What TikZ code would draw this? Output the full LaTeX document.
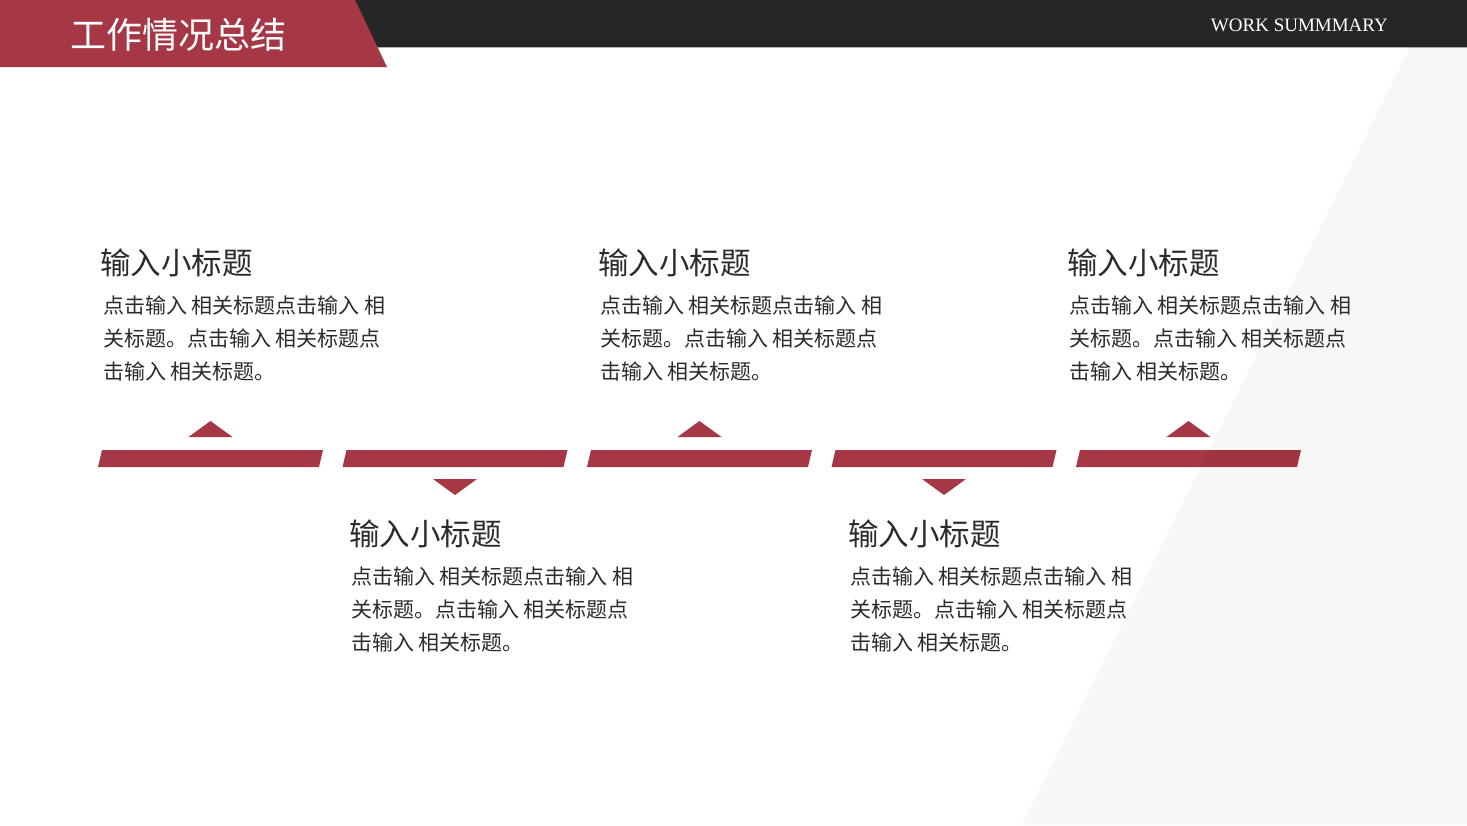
\documentclass[tikz,border=0pt]{standalone}
\usepackage{fontspec}
\setmainfont{Noto Sans CJK SC}
\newfontfamily\latinserif{Liberation Serif}
\usepackage{xcolor}
\usepackage{tikz}
\definecolor{wineRed}{HTML}{A63744}
\definecolor{barBlack}{HTML}{262626}
\definecolor{textGrey}{HTML}{2B2B2B}

\begin{document}
\begin{tikzpicture}[x=1pt,y=-1pt,
  seg/.style={fill=wineRed},
  pointer/.style={fill=wineRed},
  subtitle/.style={anchor=base west,inner sep=0,text=textGrey,font=\fontsize{30.5}{36}\selectfont},
  bodytext/.style={anchor=north west,inner sep=0,align=left,text=textGrey,font=\fontsize{21}{33}\selectfont}]
  \useasboundingbox (0,0) rectangle (1467,825);

  % Naglowek
  \fill[barBlack] (355,0) rectangle (1467,47);
  \draw[gray!60,line width=1pt] (370,47) -- (1467,47);
  \fill[wineRed] (0,0) -- (355,0) -- (387,67) -- (0,67) -- cycle;
  \node[anchor=base west,inner sep=0,text=white,font=\fontsize{36}{40}\selectfont] (title) at (70,48) {工作情况总结};
  \node[anchor=base east,inner sep=0,text=white,font=\latinserif\fontsize{19}{22}\selectfont] (subtitleEn) at (1388,31) {WORK SUMMMARY};

  % Os czasu
  \fill[seg] (102,450) -- (323,450) -- (319,467) -- (98,467) -- cycle;
  \fill[seg] (346.5,450) -- (567.5,450) -- (563.5,467) -- (342.5,467) -- cycle;
  \fill[seg] (591,450) -- (812,450) -- (808,467) -- (587,467) -- cycle;
  \fill[seg] (835.5,450) -- (1056.5,450) -- (1052.5,467) -- (831.5,467) -- cycle;
  \fill[seg] (1080,450) -- (1301,450) -- (1297,467) -- (1076,467) -- cycle;

  % Znaczniki
  \fill[pointer] (188.5,437) -- (210.5,421) -- (232.5,437) -- cycle;
  \fill[pointer] (677.5,437) -- (699.5,421) -- (721.5,437) -- cycle;
  \fill[pointer] (1166.5,437) -- (1188.5,421) -- (1210.5,437) -- cycle;
  \fill[pointer] (433,479) -- (455,495) -- (477,479) -- cycle;
  \fill[pointer] (922,479) -- (944,495) -- (966,479) -- cycle;

  % Tlo
  \fill[black,opacity=0.03] (1410,47) -- (1467,47) -- (1467,825) -- (1022,825) -- cycle;

  % Teksty
  \node[subtitle] (head1) at (100,274) {输入小标题};
  \node[bodytext] (body1) at (103,296) {点击输入 相关标题点击输入 相\\关标题。点击输入 相关标题点\\击输入 相关标题。};
  \node[subtitle] (head2) at (349,545) {输入小标题};
  \node[bodytext] (body2) at (351,567) {点击输入 相关标题点击输入 相\\关标题。点击输入 相关标题点\\击输入 相关标题。};
  \node[subtitle] (head3) at (598,274) {输入小标题};
  \node[bodytext] (body3) at (600,296) {点击输入 相关标题点击输入 相\\关标题。点击输入 相关标题点\\击输入 相关标题。};
  \node[subtitle] (head4) at (848,545) {输入小标题};
  \node[bodytext] (body4) at (850,567) {点击输入 相关标题点击输入 相\\关标题。点击输入 相关标题点\\击输入 相关标题。};
  \node[subtitle] (head5) at (1067,274) {输入小标题};
  \node[bodytext] (body5) at (1069,296) {点击输入 相关标题点击输入 相\\关标题。点击输入 相关标题点\\击输入 相关标题。};
\end{tikzpicture}
\end{document}
